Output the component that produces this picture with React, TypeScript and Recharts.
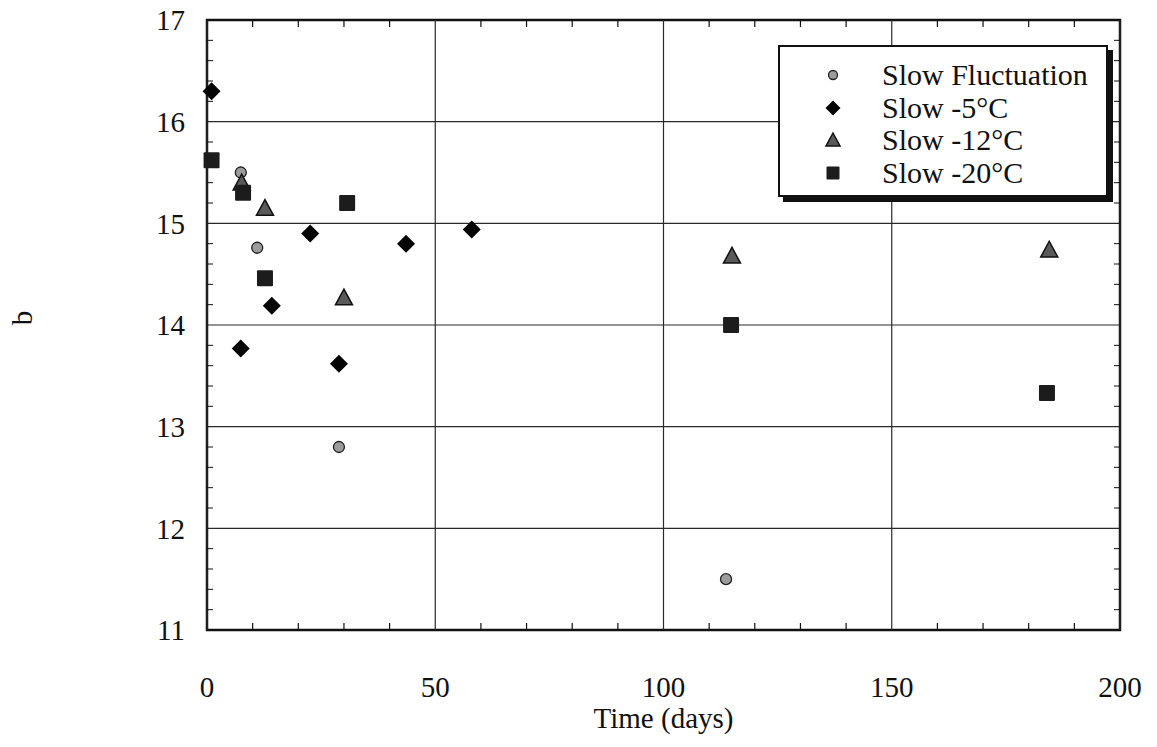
import React from "react";
import {
  CartesianGrid,
  Legend,
  ReferenceArea,
  ReferenceLine,
  Scatter,
  ScatterChart,
  XAxis,
  YAxis,
} from "recharts";

// values
const fluctX = [7.4, 11, 28.9, 113.7];
const fluctY = [15.5, 14.76, 12.8, 11.5];

const minus5X = [1, 7.4, 14.2, 22.6, 28.9, 43.6, 58];
const minus5Y = [16.3, 13.77, 14.19, 14.9, 13.62, 14.8, 14.94];

const minus12X = [7.6, 12.7, 30, 115, 184.5];
const minus12Y = [15.4, 15.15, 14.27, 14.68, 14.74];

const minus20X = [1, 7.9, 12.7, 30.7, 114.8, 184];
const minus20Y = [15.62, 15.3, 14.46, 15.2, 14.0, 13.33];

const xMajor = [0, 50, 100, 150, 200];
const xAll = [
  0, 10, 20, 30, 40, 50, 60, 70, 80, 90, 100, 110, 120, 130, 140, 150, 160, 170, 180, 190, 200,
];
const yTicks = [11, 12, 13, 14, 15, 16, 17];
const yMinor = [
  11.2, 11.4, 11.6, 11.8, 12.2, 12.4, 12.6, 12.8, 13.2, 13.4, 13.6, 13.8,
  14.2, 14.4, 14.6, 14.8, 15.2, 15.4, 15.6, 15.8, 16.2, 16.4, 16.6, 16.8,
];

const zip = (xs: number[], ys: number[]) => xs.map((x, i) => ({ x, y: ys[i] }));

const serif = "'Liberation Serif', 'Times New Roman', serif";
const fs = 29;
const TOP = 20;
const X_MARGIN = 46;

const Dot = ({ cx, cy, s = 5.5 }: any) => (
  <circle cx={cx} cy={cy} r={s} fill="#9c9c9c" stroke="#222" strokeWidth={1.3} />
);
const Diamond = ({ cx, cy, s = 9 }: any) => (
  <polygon
    points={`${cx},${cy - s} ${cx + s},${cy} ${cx},${cy + s} ${cx - s},${cy}`}
    fill="#050505"
  />
);
const Tri = ({ cx, cy, s = 8.5 }: any) => (
  <polygon
    points={`${cx},${cy - s} ${cx + s},${cy + s * 0.85} ${cx - s},${cy + s * 0.85}`}
    fill="#5a5a5a"
    stroke="#111"
    strokeWidth={1.5}
  />
);
const Sq = ({ cx, cy, s = 8 }: any) => (
  <rect x={cx - s} y={cy - s} width={s * 2} height={s * 2} fill="#1c1c1c" rx={1} />
);

const series = [
  { name: "Slow Fluctuation", data: zip(fluctX, fluctY), Shape: Dot, ls: 4.5 },
  { name: "Slow -5°C", data: zip(minus5X, minus5Y), Shape: Diamond, ls: 7.5 },
  { name: "Slow -12°C", data: zip(minus12X, minus12Y), Shape: Tri, ls: 7 },
  { name: "Slow -20°C", data: zip(minus20X, minus20Y), Shape: Sq, ls: 6.5 },
];

// label on the 50s, short inward tick (bottom and top) elsewhere
const XTick = ({ x, y, payload }: any) => {
  const v = payload.value;
  if (xMajor.includes(v)) {
    return (
      <text x={x} y={y} dy="0.71em" textAnchor="middle" fontSize={fs} fontFamily={serif} fill="#111">
        {v}
      </text>
    );
  }
  const axisY = y - X_MARGIN;
  return (
    <g stroke="#111" strokeWidth={1.2}>
      <line x1={x} x2={x} y1={axisY} y2={axisY - 7} />
      <line x1={x} x2={x} y1={TOP} y2={TOP + 7} />
    </g>
  );
};

function LegendBox() {
  return (
    <div
      style={{
        width: 330,
        height: 152,
        background: "#fff",
        border: "2px solid #111",
        boxShadow: "5px 5px 0 #111",
        boxSizing: "border-box",
        paddingTop: 12,
        fontFamily: serif,
        fontSize: 30,
        color: "#111",
      }}
    >
      {series.map(({ name, Shape, ls }) => (
        <div key={name} style={{ display: "flex", alignItems: "center", height: 32.5 }}>
          <svg width={102} height={32}>
            <Shape cx={53} cy={16} s={ls} />
          </svg>
          <span style={{ lineHeight: "32px" }}>{name}</span>
        </div>
      ))}
    </div>
  );
}

const NoLabel = () => <g />;

export default function App() {
  return (
    <div style={{ position: "absolute", left: 0, top: 0, background: "#fff" }}>
      <ScatterChart
        width={1157}
        height={747}
        margin={{ top: TOP, right: 37, bottom: 0, left: 0 }}
      >
        <CartesianGrid stroke="#2a2a2a" strokeWidth={1.2} fill="none" vertical={false} />
        {xMajor.map((v) => (
          <ReferenceLine key={v} x={v} stroke="#2a2a2a" strokeWidth={1.2} />
        ))}
        <XAxis
          type="number"
          dataKey="x"
          domain={[0, 200]}
          ticks={xAll}
          interval={0}
          height={117}
          axisLine={false}
          tickLine={false}
          tickSize={0}
          tickMargin={X_MARGIN}
          tick={XTick}
          label={{
            content: ({ viewBox }: any) => (
              <text
                x={viewBox.x + viewBox.width / 2}
                y={viewBox.y + 98}
                textAnchor="middle"
                fontSize={fs}
                fontFamily={serif}
                fill="#111"
              >
                Time (days)
              </text>
            ),
          }}
        />
        <YAxis
          type="number"
          dataKey="y"
          domain={[11, 17]}
          ticks={yTicks}
          interval={0}
          width={207}
          axisLine={false}
          tickLine={false}
          tickSize={0}
          tickMargin={22}
          tick={{ fontSize: fs, fontFamily: serif, fill: "#111" }}
          label={{
            content: ({ viewBox }: any) => {
              const cx = 22;
              const cy = viewBox.y + viewBox.height / 2 - 7;
              return (
                <text
                  x={cx}
                  y={cy}
                  transform={`rotate(-90, ${cx}, ${cy})`}
                  textAnchor="middle"
                  dominantBaseline="central"
                  fontSize={fs}
                  fontFamily={serif}
                  fill="#111"
                >
                  b
                </text>
              );
            },
          }}
        />
        {/* inward minor ticks on left and right */}
        <YAxis yAxisId="ml" type="number" domain={[11, 17]} allowDataOverflow ticks={yMinor}
          interval={0} mirror tick={NoLabel} axisLine={false} tickSize={6} stroke="#111" />
        <YAxis yAxisId="mr" orientation="right" type="number" domain={[11, 17]} allowDataOverflow
          ticks={yMinor} interval={0} mirror tick={NoLabel} axisLine={false} tickSize={6}
          stroke="#111" />
        <ReferenceArea x1={0} x2={200} y1={11} y2={17} fill="none" stroke="#111"
          strokeWidth={2.5} fillOpacity={0} ifOverflow="visible" />
        {series.map(({ name, data, Shape }) => (
          <Scatter
            key={name}
            name={name}
            data={data}
            isAnimationActive={false}
            shape={(p: any) => <Shape cx={p.cx} cy={p.cy} />}
          />
        ))}
        <Legend
          layout="vertical"
          align="center"
          verticalAlign="middle"
          wrapperStyle={{ position: "absolute", left: 778, top: 45, width: "auto" }}
          content={() => <LegendBox />}
        />
      </ScatterChart>
    </div>
  );
}
